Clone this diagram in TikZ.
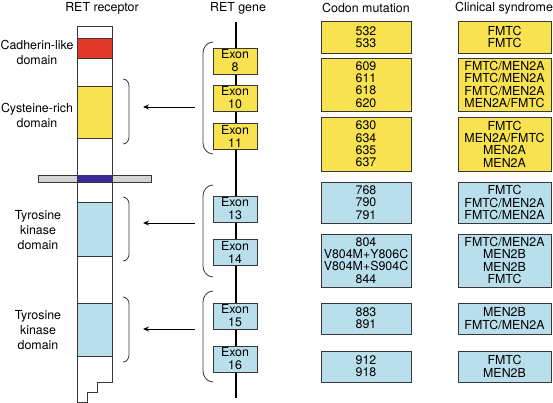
\documentclass[tikz,border=0pt]{standalone}
\usepackage{fontspec}
\setmainfont{TeX Gyre Heros}
\usetikzlibrary{arrows.meta}
\definecolor{yel}{RGB}{248,226,80}
\definecolor{lblue}{RGB}{185,222,236}
\definecolor{redd}{RGB}{226,56,40}
\definecolor{dblue}{RGB}{58,42,152}
\definecolor{gbar}{RGB}{212,212,212}
\definecolor{edge}{RGB}{55,55,55}
\begin{document}
\begin{tikzpicture}[x=1pt,y=-1pt,
  every node/.style={font=\fontsize{12.4}{12.3}\selectfont, inner sep=0pt},
  mbox/.style={draw=edge, line width=0.9pt, align=center, minimum width=90pt},
  sbox/.style={draw=edge, line width=0.9pt, align=center, minimum width=93pt},
  exon/.style={draw=edge, line width=0.9pt, align=center, minimum width=44pt, minimum height=26pt, font=\fontsize{12.4}{13}\selectfont},
  lab/.style={align=center, font=\fontsize{12.4}{15}\selectfont},
  brk/.style={draw=edge, line width=0.8pt},
  arr/.style={draw=black, line width=0.8pt, -{Stealth[length=6pt,width=5pt]}}]
\useasboundingbox (0,0) rectangle (553,403);
% titles
\node (t1) at (102,8) {RET receptor};
\node (t2) at (238,8) {RET gene};
\node (t3) at (366,8) {Codon mutation};
\node (t4) at (504,8) {Clinical syndrome};
% receptor fills
\fill[redd] (77,38) rectangle (112,58);
\fill[yel] (77,86) rectangle (112,138);
\fill[lblue] (77,202) rectangle (112,256);
\fill[lblue] (77,303) rectangle (112,356);
\draw[edge, line width=0.6pt] (77,38) -- (112,38) (77,58) -- (112,58)
  (77,86) -- (112,86) (77,138) -- (112,138)
  (77,202) -- (112,202) (77,256) -- (112,256)
  (77,303) -- (112,303) (77,356) -- (112,356);
\draw[edge, line width=0.6pt, fill=gbar] (38,175) rectangle (151,182);
\fill[dblue] (77,175) rectangle (112,182);
\draw[edge, line width=0.9pt] (77,26) -- (112,26) -- (112,382) -- (97,382) -- (97,392) -- (87,392) -- (87,402) -- (77,402) -- cycle;
% receptor labels
\node[lab] (l1) at (37,52) {Cadherin-like\\domain};
\node[lab] (l2) at (37,115) {Cysteine-rich\\domain};
\node[lab] (l3) at (38,230) {Tyrosine\\kinase\\domain};
\node[lab] (l4) at (38,330) {Tyrosine\\kinase\\domain};
% gene line
\coordinate (gtop) at (236,22);
\coordinate (gbot) at (236,398);
\draw[black, line width=1.1pt] (gtop) -- (gbot);
% exons
\node[exon, fill=yel] (e8) at (235,61) {Exon\\8};
\node[exon, fill=yel] (e10) at (235,98) {Exon\\10};
\node[exon, fill=yel] (e11) at (235,136) {Exon\\11};
\node[exon, fill=lblue] (e13) at (235,209) {Exon\\13};
\node[exon, fill=lblue] (e14) at (235,252.5) {Exon\\14};
\node[exon, fill=lblue] (e15) at (235,316) {Exon\\15};
\node[exon, fill=lblue] (e16) at (235,359) {Exon\\16};
% left brackets near gene
\draw[brk] (213,42) to[out=180,in=90] (203,53) -- (203,143) to[out=-90,in=180] (213,154);
\draw[brk] (213,185) to[out=180,in=90] (203,196) -- (203,266) to[out=-90,in=180] (213,277);
\draw[brk] (213,291) to[out=180,in=90] (203,302) -- (203,371) to[out=-90,in=180] (213,382);
% right brackets near receptor
\draw[brk] (123,79) to[out=0,in=90] (129,86) -- (129,137) to[out=-90,in=0] (123,144);
\draw[brk] (123,197) to[out=0,in=90] (129,204) -- (129,254) to[out=-90,in=0] (123,261);
\draw[brk] (123,297) to[out=0,in=90] (129,304) -- (129,355) to[out=-90,in=0] (123,362);
% arrows
\coordinate (a1s) at (195,107); \coordinate (a1e) at (143,107);
\coordinate (a2s) at (195,223); \coordinate (a2e) at (143,223);
\coordinate (a3s) at (195,329); \coordinate (a3e) at (143,329);
\draw[arr] (a1s) -- (a1e);
\draw[arr] (a2s) -- (a2e);
\draw[arr] (a3s) -- (a3e);
% codon boxes
\node[mbox, fill=yel, minimum height=32pt] (c1) at (366,37) {532\\533};
\node[mbox, fill=yel, minimum height=53pt] (c2) at (366,84.5) {609\\611\\618\\620};
\node[mbox, fill=yel, minimum height=54pt] (c3) at (366,144) {630\\634\\635\\637};
\node[mbox, fill=lblue, minimum height=41pt] (c4) at (366,202.5) {768\\790\\791};
\node[mbox, fill=lblue, minimum height=53pt] (c5) at (366,260.5) {804\\V804M+Y806C\\V804M+S904C\\844};
\node[mbox, fill=lblue, minimum height=31pt] (c6) at (366,318.5) {883\\891};
\node[mbox, fill=lblue, minimum height=31pt] (c7) at (366,366.5) {912\\918};
% syndrome boxes
\node[sbox, fill=yel, minimum height=32pt] (s1) at (504.5,37) {FMTC\\FMTC};
\node[sbox, fill=yel, minimum height=53pt] (s2) at (504.5,84.5) {FMTC/MEN2A\\FMTC/MEN2A\\FMTC/MEN2A\\MEN2A/FMTC};
\node[sbox, fill=yel, minimum height=54pt] (s3) at (504.5,144) {FMTC\\MEN2A/FMTC\\MEN2A\\MEN2A};
\node[sbox, fill=lblue, minimum height=41pt] (s4) at (504.5,202.5) {FMTC\\FMTC/MEN2A\\FMTC/MEN2A};
\node[sbox, fill=lblue, minimum height=53pt] (s5) at (504.5,260.5) {FMTC/MEN2A\\MEN2B\\MEN2B\\FMTC};
\node[sbox, fill=lblue, minimum height=31pt] (s6) at (504.5,318.5) {MEN2B\\FMTC/MEN2A};
\node[sbox, fill=lblue, minimum height=31pt] (s7) at (504.5,366.5) {FMTC\\MEN2B};
\end{tikzpicture}
\end{document}
